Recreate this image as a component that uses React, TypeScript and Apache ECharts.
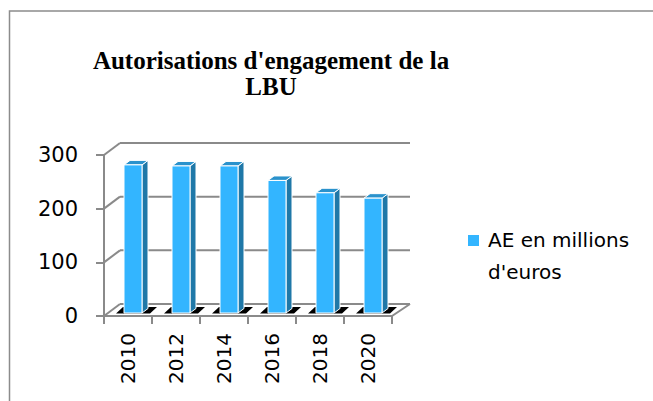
import React, { useEffect, useRef } from "react";
import * as echarts from "echarts";

const titleText = "Autorisations d'engagement de la\nLBU";
const categories = ["2010", "2012", "2014", "2016", "2018", "2020"];
const seriesName = "AE en millions\nd'euros";
const aeValues = [276, 274, 274, 247, 224, 214];
const gridValues = [0, 100, 200, 300];

const FRONT = "#33b5ff";
const SIDE = "#1f78a8";
const TOP = "#2a92cc";
const AXIS = "#8a8a8a";
const DEPTH_X = 16;
const DEPTH_Y = -12;

export default function App() {
  const ref = useRef<HTMLDivElement>(null);
  useEffect(() => {
    if (!ref.current) return;
    const chart = echarts.init(ref.current, null, { renderer: "svg" });
    const option: any = {
      animation: false,
      backgroundColor: "#ffffff",
      title: {
        text: titleText,
        left: 266,
        top: 42,
        textAlign: "center",
        textStyle: {
          fontFamily: "Liberation Serif",
          fontWeight: "bold",
          fontSize: 25,
          lineHeight: 26,
          color: "#000",
        },
      },
      grid: { left: 104, right: 261, top: 155, bottom: 85 },
      xAxis: {
        type: "category",
        data: categories,
        boundaryGap: true,
        axisLine: { show: true, lineStyle: { color: AXIS, width: 2 } },
        axisTick: { show: true, length: 8, alignWithLabel: false, lineStyle: { color: AXIS, width: 2 } },
        axisLabel: {
          rotate: 90,
          margin: 17,
          fontFamily: "DejaVu Sans",
          fontSize: 20,
          color: "#000",
        },
        splitLine: { show: false },
      },
      yAxis: {
        type: "value",
        min: 0,
        max: 300,
        interval: 100,
        axisLine: { show: true, lineStyle: { color: AXIS, width: 2 } },
        axisTick: { show: true, length: 8, lineStyle: { color: AXIS, width: 2 } },
        axisLabel: {
          margin: 26,
          fontFamily: "DejaVu Sans",
          fontSize: 21,
          color: "#000",
        },
        splitLine: { show: false },
      },
      graphic: [
        {
          type: "rect",
          shape: { x: 9.5, y: 11, width: 800, height: 600 },
          style: { fill: "none", stroke: "#8c8c8c", lineWidth: 1.5 },
          silent: true,
        },
        {
          type: "rect",
          shape: { x: 468, y: 235, width: 11, height: 11 },
          style: { fill: FRONT },
        },
        {
          type: "text",
          x: 488,
          y: 224,
          style: {
            text: seriesName,
            fontFamily: "DejaVu Sans",
            fontSize: 20,
            lineHeight: 32,
            fill: "#000",
          },
        },
      ],
      series: [
        {
          type: "custom",
          name: "walls",
          z: 1,
          clip: false,
          silent: true,
          data: gridValues.map((v) => [0, v]),
          renderItem: (params: any, api: any) => {
            const v = api.value(1);
            const cs = params.coordSys;
            const x0 = cs.x;
            const x1 = cs.x + cs.width;
            const y = api.coord([0, v])[1];
            const style = { stroke: AXIS, lineWidth: 2, fill: "none" };
            const children: any[] = [
              {
                type: "line",
                shape: { x1: x0 + DEPTH_X, y1: y + DEPTH_Y, x2: x1 + DEPTH_X + 2, y2: y + DEPTH_Y },
                style,
              },
              {
                type: "line",
                shape: { x1: x0, y1: y, x2: x0 + DEPTH_X, y2: y + DEPTH_Y },
                style,
              },
            ];
            if (v === 0) {
              children.push({
                type: "line",
                shape: { x1: x1, y1: y, x2: x1 + DEPTH_X + 2, y2: y + DEPTH_Y },
                style,
              });
            }
            return { type: "group", children };
          },
        },
        {
          type: "custom",
          name: seriesName,
          z: 2,
          clip: false,
          data: aeValues.map((v, i) => [i, v]),
          encode: { x: 0, y: 1 },
          renderItem: (params: any, api: any) => {
            const i = api.value(0);
            const v = api.value(1);
            const [cx, y0] = api.coord([i, 0]);
            const yv = api.coord([i, v])[1];
            const fl = cx - 4;
            const fr = cx + 14;
            const fb = y0 - 3;
            const ft = yv - 3;
            const dx = 6;
            const dy = -4.5;
            const edge = { stroke: "#ffffff", lineWidth: 1 };
            return {
              type: "group",
              children: [
                {
                  type: "polygon",
                  shape: {
                    points: [
                      [cx - 12, y0 - 2.5],
                      [cx + 22, y0 - 2.5],
                      [cx + 29, y0 - 9],
                      [cx - 5, y0 - 9],
                    ],
                  },
                  style: { fill: "#000" },
                },
                {
                  type: "polygon",
                  shape: { points: [[fr, fb], [fr + dx, fb + dy], [fr + dx, ft + dy], [fr, ft]] },
                  style: { fill: SIDE, ...edge },
                },
                {
                  type: "polygon",
                  shape: { points: [[fl, ft], [fr, ft], [fr + dx, ft + dy], [fl + dx, ft + dy]] },
                  style: { fill: TOP, ...edge },
                },
                {
                  type: "rect",
                  shape: { x: fl, y: ft, width: fr - fl, height: fb - ft },
                  style: { fill: FRONT, ...edge },
                },
              ],
            };
          },
        },
      ],
    };
    chart.setOption(option);
    return () => chart.dispose();
  }, []);
  return (
    <div
      ref={ref}
      style={{ position: "fixed", left: 0, top: 0, width: 653, height: 401 }}
    />
  );
}
